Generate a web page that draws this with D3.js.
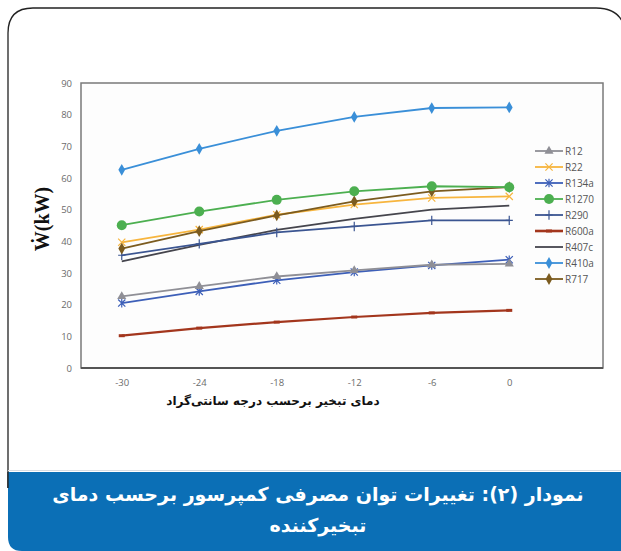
<!DOCTYPE html>
<html><head><meta charset="utf-8">
<script src="https://cdn.jsdelivr.net/npm/d3@7"></script>
<style>html,body{margin:0;padding:0;background:#fff;}svg{display:block;}</style>
</head><body>
<svg id="c" width="621" height="551"></svg>
<script>
const categories = ["-30","-24","-18","-12","-6","0"];
const seriesNames = ["R12","R22","R134a","R1270","R290","R600a","R407c","R410a","R717"];
const R12   = [22.6,25.8,28.9,30.8,32.6,32.9];
const R22   = [39.7,43.7,48.4,51.6,53.7,54.2];
const R134a = [20.5,24.2,27.7,30.3,32.4,34.2];
const R1270 = [45.1,49.4,53.1,55.8,57.4,57.1];
const R290  = [35.6,39.2,42.8,44.7,46.6,46.6];
const R600a = [10.2,12.6,14.5,16.1,17.4,18.2];
const R407c = [33.7,38.9,43.6,47.1,50.0,51.3];
const R410a = [62.6,69.2,74.9,79.3,82.1,82.3];
const R717  = [37.7,43.2,48.2,52.6,55.8,57.1];
const yTicks = [0,10,20,30,40,50,60,70,80,90];
const yLabel = "Ẇ(kW)";
const xTitle = "دمای تبخیر برحسب درجه سانتی‌گراد";
const captionLines = ["نمودار (۲): تغییرات توان مصرفی کمپرسور برحسب دمای","تبخیرکننده"];

const values = {R12,R22,R134a,R1270,R290,R600a,R407c,R410a,R717};
const styles = {
  R12:{c:"#8f8f96",m:"tri"},
  R22:{c:"#f7b53e",m:"x"},
  R134a:{c:"#3d5fb8",m:"ast"},
  R1270:{c:"#4caf50",m:"circle"},
  R290:{c:"#3b5591",m:"plus"},
  R600a:{c:"#a3361d",m:"dash"},
  R407c:{c:"#45454d",m:"none"},
  R410a:{c:"#3a8fd8",m:"diamond"},
  R717:{c:"#7b5b1f",m:"diamond"}
};

const svg = d3.select("#c");

// card outline
svg.append("path")
  .attr("d","M8,488 L8,33 Q8,8 33,8 L596,8 Q621,8 625,30")
  .attr("fill","none").attr("stroke","#222").attr("stroke-width",1.3);

// blue caption box
svg.append("line").attr("x1",8).attr("x2",621).attr("y1",470.5).attr("y2",470.5).attr("stroke","#d8dde3").attr("stroke-width",1);
svg.append("path")
  .attr("d","M8,472 L621,472 L621,551 L22,551 Q8,551 8,537 Z")
  .attr("fill","#0b6fb6");
svg.append("line").attr("x1",8).attr("x2",8).attr("y1",472).attr("y2",488).attr("stroke","#222").attr("stroke-width",1.3);
captionLines.forEach((t,i)=>{
  svg.append("text").attr("x",318).attr("y",501+i*31)
    .attr("text-anchor","middle").attr("direction","rtl")
    .attr("font-family","DejaVu Sans, Noto Sans, sans-serif").attr("font-weight","bold")
    .attr("font-size",19).attr("fill","#fff").text(t);
});

// plot
const pLeft=83, pRight=548, pTop=83, pBottom=368;
const x = d3.scalePoint().domain(categories).range([pLeft,pRight]).padding(0.5);
const y = d3.scaleLinear().domain([0,90]).range([pBottom,pTop]);

// frame
svg.append("rect").attr("x",81).attr("y",pTop).attr("width",603-81).attr("height",pBottom-pTop)
  .attr("fill","#fdfdfd").attr("stroke","#7a7a7a").attr("stroke-width",1.5);
svg.append("line").attr("x1",81).attr("x2",603).attr("y1",pBottom).attr("y2",pBottom).attr("stroke","#555").attr("stroke-width",1.8);

// axes
const yAxis = d3.axisLeft(y).tickValues(yTicks).tickSize(0).tickPadding(9);
const gy = svg.append("g").attr("transform",`translate(${81},0)`).call(yAxis);
gy.select(".domain").remove();
gy.selectAll("text").attr("font-family","Open Sans, sans-serif").attr("font-size",9.5).attr("fill","#6b6b6b");

const xAxis = d3.axisBottom(x).tickSize(0).tickPadding(11);
const gx = svg.append("g").attr("transform",`translate(0,${pBottom})`).call(xAxis);
gx.select(".domain").remove();
gx.selectAll("text").attr("font-family","Open Sans, sans-serif").attr("font-size",9.5).attr("fill","#6b6b6b");

svg.append("text").attr("transform","translate(49,219) rotate(-90)")
  .attr("text-anchor","middle").attr("font-family","Liberation Serif, serif")
  .attr("font-weight","bold").attr("font-size",20).attr("fill","#111").text(yLabel);

svg.append("text").attr("x",273).attr("y",405).attr("text-anchor","middle").attr("direction","rtl")
  .attr("font-family","DejaVu Sans, sans-serif").attr("font-weight","bold")
  .attr("font-size",12).attr("fill","#111").text(xTitle);

function marker(g, type, cx, cy, col){
  const s=3.6;
  if(type==="circle") g.append("circle").attr("cx",cx).attr("cy",cy).attr("r",5).attr("fill",col);
  else if(type==="diamond") g.append("path").attr("d",d3.symbol(d3.symbolDiamond,40)()).attr("transform",`translate(${cx},${cy})`).attr("fill",col);
  else if(type==="tri") g.append("path").attr("d",d3.symbol(d3.symbolTriangle,36)()).attr("transform",`translate(${cx},${cy})`).attr("fill",col);
  else if(type==="plus") g.append("path").attr("d",`M${cx-s},${cy}H${cx+s}M${cx},${cy-s*1.3}V${cy+s*1.3}`).attr("stroke",col).attr("stroke-width",1.2);
  else if(type==="x") g.append("path").attr("d",`M${cx-s},${cy-s}L${cx+s},${cy+s}M${cx-s},${cy+s}L${cx+s},${cy-s}`).attr("stroke",col).attr("stroke-width",1.2);
  else if(type==="ast") g.append("path").attr("d",`M${cx-s},${cy-s}L${cx+s},${cy+s}M${cx-s},${cy+s}L${cx+s},${cy-s}M${cx},${cy-s*1.2}V${cy+s*1.2}`).attr("stroke",col).attr("stroke-width",1.2);
  else if(type==="dash") g.append("path").attr("d",`M${cx-3},${cy}H${cx+3}`).attr("stroke",col).attr("stroke-width",3);
}

const line = d3.line().x((d,i)=>x(categories[i])).y(d=>y(d));
const drawOrder = ["R600a","R134a","R12","R407c","R290","R22","R717","R1270","R410a"];
drawOrder.forEach(name=>{
  const st=styles[name], g=svg.append("g");
  g.append("path").datum(values[name]).attr("d",line).attr("fill","none")
    .attr("stroke",st.c).attr("stroke-width",name==="R600a"?2.2:1.8);
  values[name].forEach((v,i)=>marker(g,st.m,x(categories[i]),y(v),st.c));
});

// legend
const lg = svg.append("g");
seriesNames.forEach((name,i)=>{
  const st=styles[name], ly=151+i*16;
  lg.append("line").attr("x1",535).attr("x2",563).attr("y1",ly).attr("y2",ly)
    .attr("stroke",st.c).attr("stroke-width",name==="R600a"?2.6:1.8);
  marker(lg,st.m,549,ly,st.c);
  lg.append("text").attr("x",565).attr("y",ly+3.5).attr("font-family","Open Sans, sans-serif")
    .attr("font-size",10).attr("fill","#555").text(name);
});
</script>
</body></html>
